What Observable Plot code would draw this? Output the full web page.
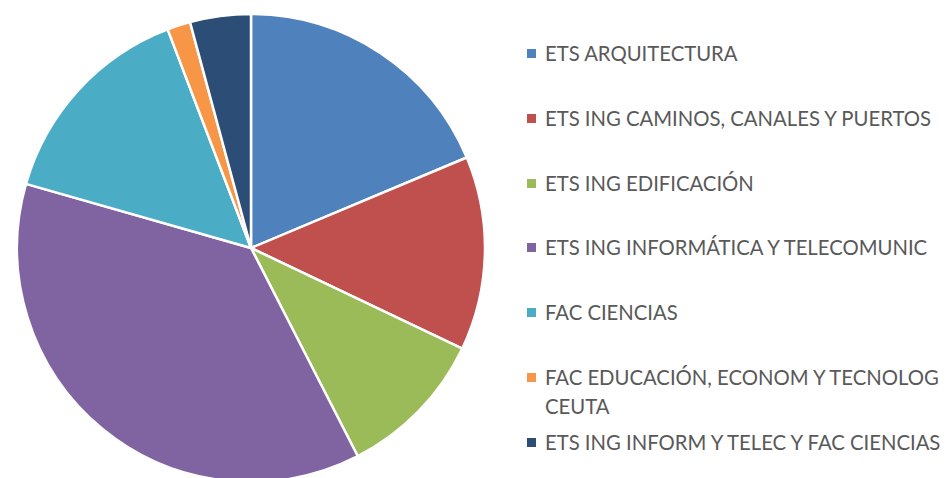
<!DOCTYPE html>
<html>
<head>
<meta charset="utf-8">
<script src="https://cdn.jsdelivr.net/npm/d3@7"></script>
<script src="https://cdn.jsdelivr.net/npm/@observablehq/plot@0.6"></script>
<style>
  html, body { margin: 0; padding: 0; background: #fff; }
  #wrap { position: relative; width: 947px; height: 478px; overflow: hidden; }
  #chart { position: absolute; left: 0; top: 0; }
  #legend { position: absolute; left: 0; top: 0; width: 947px; height: 478px; pointer-events: none;
            font-family: Lato, "Open Sans", sans-serif; font-size: 20.3px; color: #595959; }
  .item { position: absolute; left: 527px; width: 420px; display: flex; align-items: flex-start; }
  .sw { width: 9px; height: 9px; flex: none; margin-top: 10.8px; margin-right: 9px; }
  .lab { line-height: 29.5px; width: 402px; white-space: normal; }
</style>
</head>
<body>
<div id="wrap"><div id="chart"></div><div id="legend"></div></div>
<script>
const categories = [
  "ETS ARQUITECTURA",
  "ETS ING CAMINOS, CANALES Y PUERTOS",
  "ETS ING EDIFICACIÓN",
  "ETS ING INFORMÁTICA Y TELECOMUNIC",
  "FAC CIENCIAS",
  "FAC EDUCACIÓN, ECONOM Y TECNOLOG CEUTA",
  "ETS ING INFORM Y TELEC Y FAC CIENCIAS"
];
const values = [18.7, 13.4, 10.4, 37.0, 14.8, 1.6, 4.2];
const colors = ["#4F81BD", "#C0504D", "#9BBB59", "#8064A2", "#4BACC6", "#F79646", "#2C4D75"];
const legendRowCenters = [54, 119, 184, 248, 313, 378, 443];

const data = categories.map((c, i) => ({category: c, value: values[i]}));
const arcs = d3.pie().sort(null).value(d => d.value)(data);

const chart = Plot.plot({
  width: 947,
  height: 478,
  margin: 0,
  x: {type: "linear", domain: [-1, 1], range: [17, 485], axis: null},
  y: {type: "linear", domain: [-1, 1], range: [482, 14], axis: null},
  color: {domain: categories, range: colors},
  marks: [
    Plot.dot(arcs, {
      x: () => 0,
      y: () => 0,
      fill: d => d.data.category,
      render(index, scales, values, dimensions, context) {
        const cx = scales.x(0), cy = scales.y(0);
        const r = scales.x(1) - scales.x(0);
        const arcGen = d3.arc().innerRadius(0).outerRadius(r);
        const g = d3.create("svg:g").attr("transform", `translate(${cx},${cy})`);
        for (const i of index) {
          g.append("path")
            .attr("d", arcGen(arcs[i]))
            .attr("fill", values.fill[i])
            .attr("stroke", "#fff")
            .attr("stroke-width", 2.5)
            .attr("stroke-linejoin", "round");
        }
        return g.node();
      }
    })
  ]
});
document.getElementById("chart").appendChild(chart);

const legend = d3.select("#legend");
categories.forEach((c, i) => {
  const it = legend.append("div").attr("class", "item").style("top", (legendRowCenters[i] - 15.3) + "px");
  it.append("div").attr("class", "sw").style("background", colors[i]);
  it.append("div").attr("class", "lab").text(c);
});
</script>
</body>
</html>
